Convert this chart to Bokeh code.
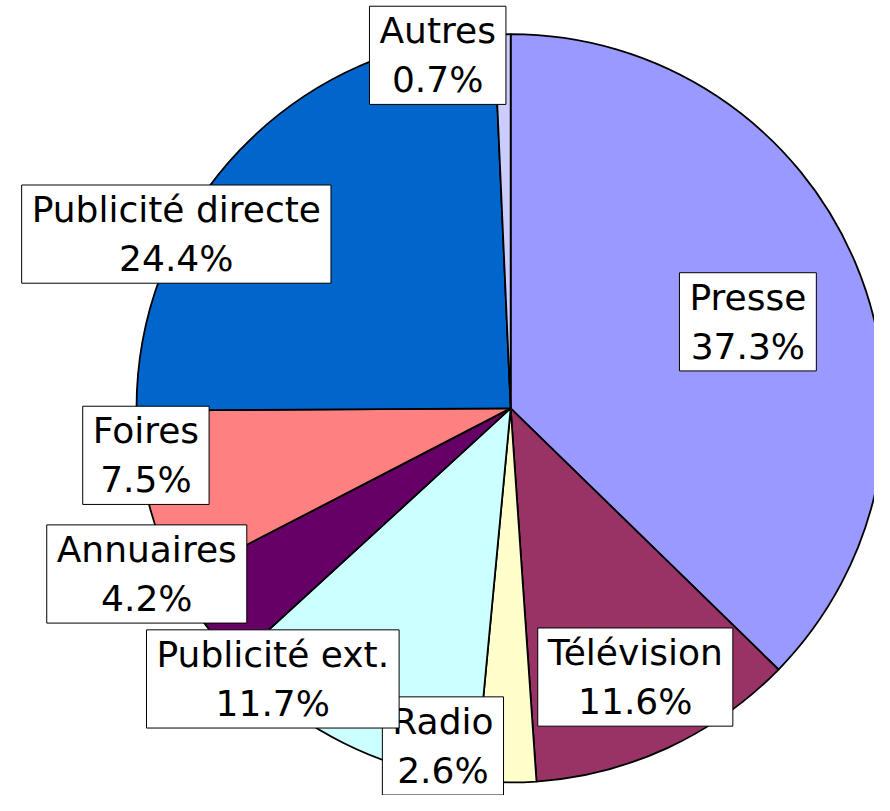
import math
from bokeh.plotting import figure
from bokeh.models import ColumnDataSource, Range1d
from bokeh.embed import file_html
from bokeh.resources import INLINE
from bokeh.core.properties import value

# ---- data ----
categories = ["Presse", "Télévision", "Radio", "Publicité ext.", "Annuaires",
              "Foires", "Publicité directe", "Autres"]
shares = [37.3, 11.6, 2.6, 11.7, 4.2, 7.5, 24.4, 0.7]
colors = ["#9999FF", "#993366", "#FFFFCC", "#CCFFFF", "#660066",
          "#FF8080", "#0066CC", "#CCCCFF"]

# ---- layout (label placement: radius fraction and angular nudge in degrees, clockwise) ----
label_r = [0.675, 0.793, 0.922, 0.964, 1.069, 0.983, 1.008, 0.965]
label_shift = [2.8, 0.0, 10.6, 14.8, 10.4, 6.5, -16.0, -10.4]

R = 381.0
total = sum(shares)

starts, ends, lx, ly, texts = [], [], [], [], []
cum = 0.0
for i, s in enumerate(shares):
    f0 = cum / total
    f1 = (cum + s) / total
    starts.append(math.pi / 2 - 2 * math.pi * f0)
    ends.append(math.pi / 2 - 2 * math.pi * f1)
    mid = (f0 + f1) / 2 * 360.0 + label_shift[i]
    th = math.radians(mid)
    r = label_r[i] * R
    lx.append(r * math.sin(th))
    ly.append(r * math.cos(th))
    texts.append(f"{categories[i]}\n{s:.1f}%")
    cum += s

wsrc = ColumnDataSource(dict(start=starts, end=ends, color=colors,
                             x=[0] * len(shares), y=[0] * len(shares)))
lsrc = ColumnDataSource(dict(x=lx, y=ly, text=texts))

p = figure(width=874, height=795, output_backend="svg", toolbar_location=None,
           x_range=Range1d(-519.5, 370.5), y_range=Range1d(-395, 416),
           min_border=0)
p.axis.visible = False
p.grid.visible = False
p.outline_line_color = None
p.background_fill_color = "white"

p.wedge(x="x", y="y", radius=R, start_angle="start", end_angle="end",
        direction="clock", fill_color="color", line_color="black",
        line_width=1.8, source=wsrc)

p.text(x="x", y="y", text="text", source=lsrc,
       text_font=value("DejaVu Sans"), text_font_size=value("36px"),
       text_align="center", text_baseline="middle", text_color="black",
       background_fill_color="white", border_line_color="black",
       border_line_width=1, padding=(10, 4))

open("out.html", "w").write(file_html(p, INLINE))
